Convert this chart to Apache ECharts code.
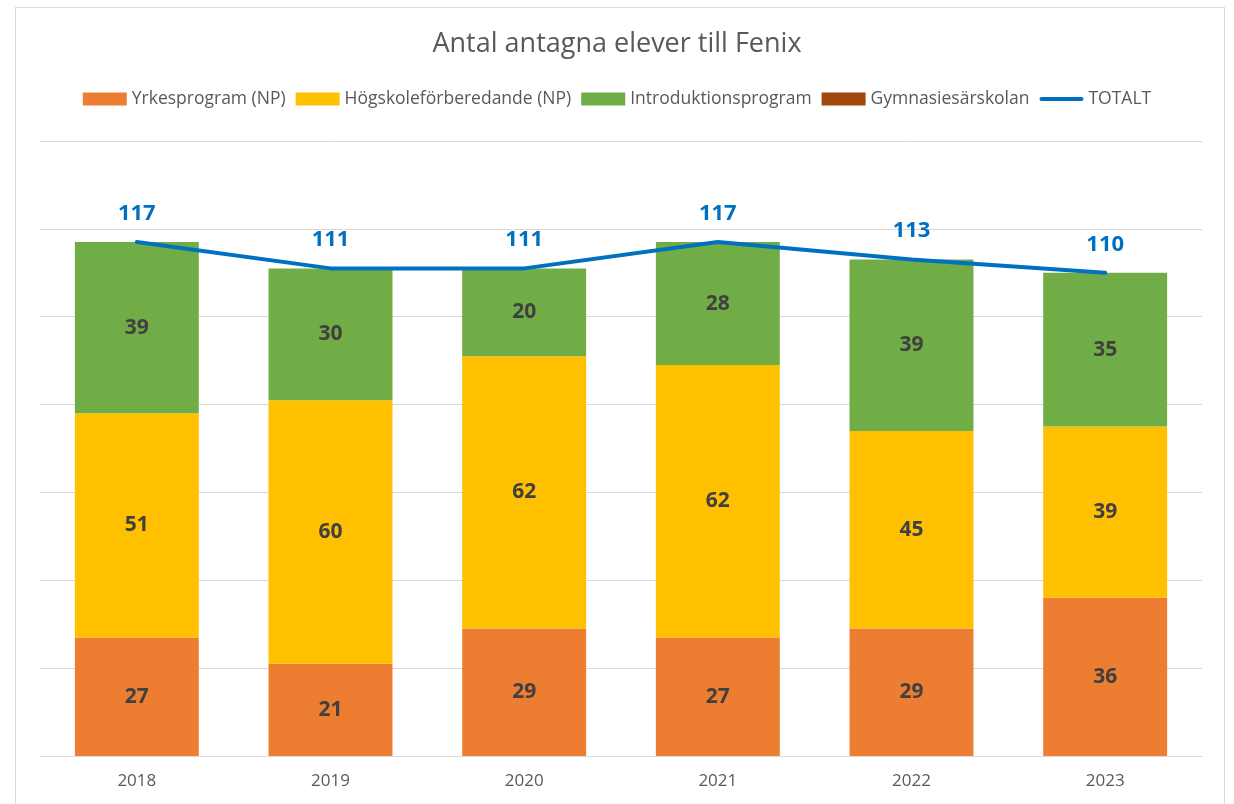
<!DOCTYPE html>
<html>
<head>
<meta charset="utf-8">
<script src="https://cdn.jsdelivr.net/npm/echarts@6/dist/echarts.min.js"></script>
<style>
html,body{margin:0;padding:0;background:#fff;}
#frame{position:absolute;left:15px;top:7px;width:1210px;height:820px;border:1px solid #D9D9D9;box-sizing:border-box;}
#main{position:absolute;left:0;top:0;width:1234px;height:804px;}
</style>
</head>
<body>
<div id="frame"></div>
<div id="main"></div>
<script>
const categories = ['2018','2019','2020','2021','2022','2023'];
const yrkes = [27, 21, 29, 27, 29, 36];
const hogskole = [51, 60, 62, 62, 45, 39];
const intro = [39, 30, 20, 28, 39, 35];
const gymsar = [0, 0, 0, 0, 0, 0];
const totalt = [117, 111, 111, 117, 113, 110];

const font = 'Open Sans, Noto Sans, sans-serif';
const barLabel = {
  show: true, position: 'inside', color: '#404040', fontSize: 21, fontWeight: 'bold', fontFamily: font,
  formatter: p => p.value === 0 ? '' : p.value
};
function barSeries(name, data, color) {
  return { name, type: 'bar', stack: 'total', data, barCategoryGap: '36%',
    itemStyle: { color }, label: barLabel, emphasis: { disabled: true } };
}
const chart = echarts.init(document.getElementById('main'), null, { renderer: 'canvas' });
chart.setOption({
  animation: false,
  title: { text: 'Antal antagna elever till Fenix', left: 'center', top: 26,
    textStyle: { color: '#595959', fontSize: 27, fontWeight: 'normal', fontFamily: font } },
  legend: { top: 85, left: 'center', itemWidth: 44, itemHeight: 13, itemGap: 10, symbolKeepAspect: true,
    textStyle: { color: '#595959', fontSize: 17.5, fontFamily: font },
    data: [
      { name: 'Yrkesprogram (NP)', icon: 'rect' },
      { name: 'Högskoleförberedande (NP)', icon: 'rect' },
      { name: 'Introduktionsprogram', icon: 'rect' },
      { name: 'Gymnasiesärskolan', icon: 'rect' },
      { name: 'TOTALT', icon: 'path://M2,0 L40,0 A2,2 0 0 1 40,4 L2,4 A2,2 0 0 1 2,0 Z' }
    ] },
  grid: { left: 40, right: 32, top: 141, bottom: 48, containLabel: false },
  xAxis: { type: 'category', data: categories,
    axisLine: { lineStyle: { color: '#D9D9D9' } }, axisTick: { show: false },
    axisLabel: { color: '#595959', fontSize: 17, fontFamily: font, margin: 17 } },
  yAxis: { type: 'value', min: 0, max: 140, interval: 20,
    axisLabel: { show: false }, axisLine: { show: false }, axisTick: { show: false },
    splitLine: { lineStyle: { color: '#D9D9D9' } } },
  series: [
    barSeries('Yrkesprogram (NP)', yrkes, '#ED7D31'),
    barSeries('Högskoleförberedande (NP)', hogskole, '#FFC000'),
    barSeries('Introduktionsprogram', intro, '#70AD47'),
    barSeries('Gymnasiesärskolan', gymsar, '#9E480E'),
    { name: 'TOTALT', type: 'line', data: totalt, symbol: 'circle', symbolSize: 1,
      itemStyle: { color: '#0070C0' }, lineStyle: { color: '#0070C0', width: 4, cap: 'round' },
      label: { show: true, position: 'top', distance: 17, color: '#0070C0', fontSize: 22, fontWeight: 'bold', fontFamily: font },
      emphasis: { disabled: true }, z: 10 }
  ]
});
</script>
</body>
</html>
